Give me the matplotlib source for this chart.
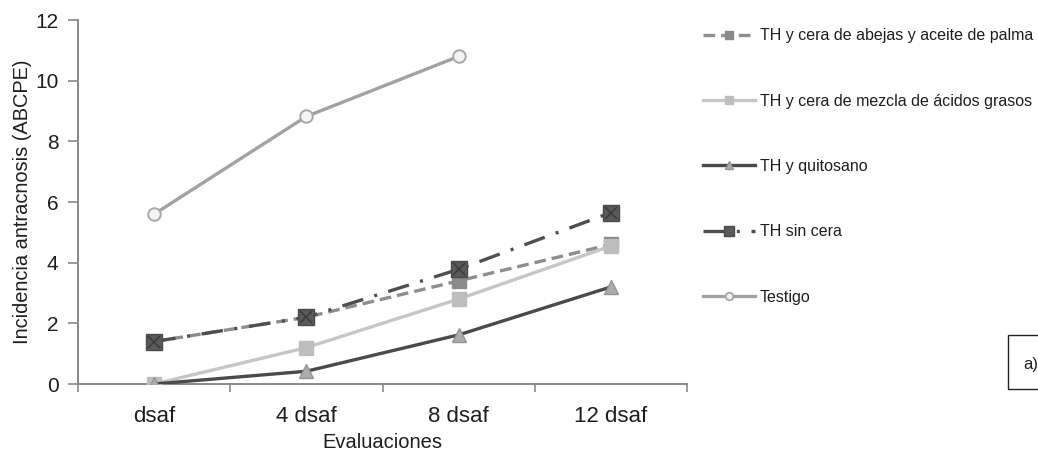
import matplotlib
matplotlib.use("Agg")
import matplotlib.pyplot as plt
from matplotlib.patches import Rectangle

categories = ["dsaf", "4 dsaf", "8 dsaf", "12 dsaf"]
abejas = [1.4, 2.2, 3.4, 4.6]
mezcla = [0.0, 1.2, 2.8, 4.55]
quitosano = [0.0, 0.42, 1.62, 3.2]
sin_cera = [1.4, 2.2, 3.78, 5.65]
testigo = [5.6, 8.82, 10.8]

labels = ["TH y cera de abejas y aceite de palma",
          "TH y cera de mezcla de ácidos grasos",
          "TH y quitosano",
          "TH sin cera",
          "Testigo"]

plt.rcParams['font.family'] = ['Liberation Sans', 'DejaVu Sans']

fig = plt.figure(figsize=(10.38, 4.54), dpi=100)
ax = fig.add_axes([78/1038, 70/454, (687-78)/1038, (384-20)/454])

x = list(range(len(categories)))
axis_col = "#8a8a8a"
text_col = "#1e1e1e"
lw = 2.4

h_ab, = ax.plot(x, abejas, color="#8e8e8e", lw=lw, ls=(0, (3.5, 1.8)),
                marker="s", ms=10, mfc="#8a8a8a", mec="#8a8a8a", zorder=3)
h_me, = ax.plot(x, mezcla, color="#c6c6c6", lw=lw, ls="-",
                marker="s", ms=10, mfc="#bdbdbd", mec="#bdbdbd", zorder=3)
h_qu, = ax.plot(x, quitosano, color="#4a4a4a", lw=lw, ls="-",
                marker="^", ms=10, mfc="#acacac", mec="#949494", zorder=4)
h_sc, = ax.plot(x, sin_cera, color="#4f4f4f", lw=lw, ls=(0, (6.5, 3.5, 0.9, 3.5)),
                marker="s", ms=11, mfc="#5a5a5a", mec="#4a4a4a", zorder=5)
ax.plot(x, sin_cera, ls="none", marker="x", ms=8, mec="#3c3c3c", mew=1.2, zorder=6)
h_te, = ax.plot(x[:len(testigo)], testigo, color="#a2a2a2", lw=lw, ls="-",
                marker="o", ms=9, mfc="#f4f4f4", mec="#a8a8a8", mew=1.4, zorder=3)

ax.set_xlim(-0.5, 3.5)
ax.set_ylim(0, 12)
ax.set_yticks(range(0, 13, 2))
ax.set_xticks(x)
ax.set_xticklabels(categories)
ax.set_xticks([0.5, 1.5, 2.5, -0.5, 3.5], minor=True)
ax.tick_params(axis="x", which="major", length=0, labelsize=16, colors=text_col, pad=16)
ax.tick_params(axis="x", which="minor", length=6, width=1.2, color=axis_col, direction="out")
ax.tick_params(axis="y", length=7, width=1.2, color=axis_col, labelsize=15,
               labelcolor=text_col, pad=7)
for s in ["top", "right"]:
    ax.spines[s].set_visible(False)
for s in ["left", "bottom"]:
    ax.spines[s].set_color(axis_col)
    ax.spines[s].set_linewidth(1.4)

ax.set_xlabel("Evaluaciones", fontsize=14.5, color=text_col, labelpad=4)
ax.set_ylabel("Incidencia antracnosis (ABCPE)", fontsize=14.4, color=text_col, labelpad=2)

leg = fig.legend([h_ab, h_me, h_qu, h_sc, h_te], labels,
                 loc="upper left", bbox_to_anchor=(689/1038, 1 - 14/454),
                 frameon=False, fontsize=11.5, labelspacing=3.15,
                 handlelength=3.25, handletextpad=0.3, markerscale=0.6)
for t in leg.get_texts():
    t.set_color(text_col)

fig.patches.append(Rectangle((1008/1038, 1 - 389/454), 0.2, 54/454,
                             transform=fig.transFigure, fill=False,
                             ec="#222222", lw=1.0))
fig.text(1023/1038, 1 - 365/454, "a)", fontsize=12, color=text_col, va="center")

fig.savefig("out.png", dpi=100)
